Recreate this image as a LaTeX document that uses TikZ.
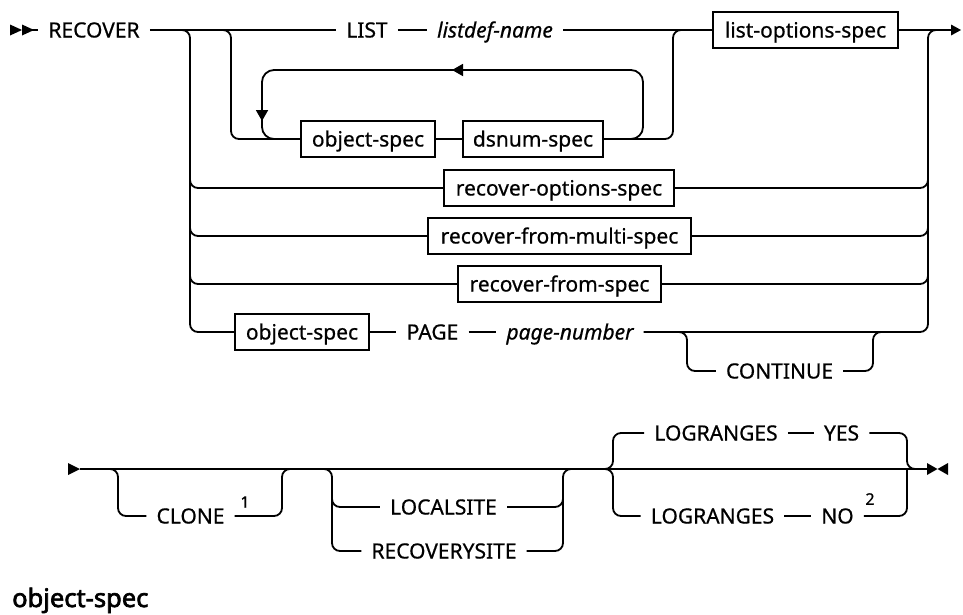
\documentclass[tikz,border=0pt]{standalone}
\usepackage{fontspec}
\setmainfont{Noto Sans}[FakeBold=0.6]
\newfontfamily\headfont{Noto Sans}[FakeBold=2.6]
\usetikzlibrary{arrows.meta}
\tikzset{
  rail/.style={line width=1.8pt},
  rc/.style={rail, rounded corners=8pt},
  rcl/.style={rail, rounded corners=12pt},
  kw/.style={font=\fontsize{21}{24}\selectfont, inner xsep=10pt, inner ysep=0pt, text height=15pt, text depth=0pt},
  var/.style={kw, font=\fontsize{21}{24}\selectfont\itshape},
  bx/.style={kw, draw, line width=1.8pt, minimum height=36pt, inner xsep=8pt},
  supnum/.style={font=\fontsize{16}{18}\selectfont, inner sep=0pt},
  head/.style={font=\headfont\fontsize{25.5}{28}\selectfont, inner sep=0pt, anchor=base west},
  tip/.style={fill=black, draw=none},
  arr/.style={rail, -{Triangle[length=11pt,width=12pt]}}
}
\begin{document}
\begin{tikzpicture}[x=1pt,y=-1pt]
\useasboundingbox (0,0) rectangle (963,614);
% ---------- row 1 ----------
\node[kw] (recover) at (94,30) {RECOVER};
\node[kw] (list) at (367,30) {LIST};
\node[var] (listdef) at (495,30) {listdef-name};
\node[bx, minimum width=185pt] (lopt) at (805.5,30) {list-options-spec};
\node[bx, minimum width=134pt] (obj1) at (368,139) {object-spec};
\node[bx, minimum width=140pt] (dsnum) at (533,139) {dsnum-spec};
\node[bx, minimum width=230pt] (recopt) at (559,188) {recover-options-spec};
\node[bx, minimum width=263pt] (recmulti) at (559.5,236) {recover-from-multi-spec};
\node[bx, minimum width=203pt] (recfrom) at (559.5,284) {recover-from-spec};
\node[bx, minimum width=134pt] (obj2) at (302,332) {object-spec};
\node[kw] (page) at (432.5,332) {PAGE};
\node[var] (pagenum) at (570,332) {page-number};
\node[kw] (cont) at (779.5,371) {CONTINUE};
\coordinate (e1) at (961,30);
% start marker
\fill[tip] (10,24.5) -- (10,35.5) -- (22,30) -- cycle;
\fill[tip] (22,24.5) -- (22,35.5) -- (34,30) -- cycle;
\draw[rail] (22,30) -- (recover.west);
\draw[rail] (recover.east) -- (list.west);
\draw[rail] (list.east) -- (listdef.west);
\draw[rail] (listdef.east) -- (lopt.west);
\draw[rail] (lopt.east) -- (952,30);
\fill[tip] (951,24.5) -- (951,35.5) -- (e1) -- cycle;
% outer branches
\draw[rc] (170,30) -| (190,332) -- (obj2.west);
\draw[rc] (190,170) |- (recopt.west);
\draw[rc] (190,218) |- (recmulti.west);
\draw[rc] (190,266) |- (recfrom.west);
\draw[rail] (obj2.east) -- (page.west);
\draw[rail] (page.east) -- (pagenum.west);
\draw[rc] (pagenum.east) -| (928,30) -- (945,30);
\draw[rc] (recopt.east) -| (928,170);
\draw[rc] (recmulti.east) -| (928,218);
\draw[rc] (recfrom.east) -| (928,266);
% continue
\draw[rc] (670,332) -| (687,371) -- (cont.west);
\draw[rc] (cont.east) -| (873,332) -- (890,332);
% inner list branch
\draw[rc] (210,30) -| (231,139) -- (obj1.west);
\draw[rail] (obj1.east) -- (dsnum.west);
\draw[rc] (dsnum.east) -| (673,30) -- (690,30);
% repeat loop
\coordinate (lt) at (452,70);
\draw[rcl] (dsnum.east) -| (643,70) -- (lt);
\draw[arr] (480,70) -- (lt);
\draw[rcl] (lt) -| (262,139) -- (290,139);
\coordinate (ld) at (262,121);
\draw[arr] (262,95) -- (ld);
% ---------- row 2 ----------
\node[kw] (clone) at (190.5,516) {CLONE};
\node[supnum] (one) at (245,502) {1};
\node[kw] (local) at (443.5,507) {LOCALSITE};
\node[kw] (rsite) at (444,551) {RECOVERYSITE};
\node[kw] (lr1) at (716,433) {LOGRANGES};
\node[kw] (yes) at (841.5,433) {YES};
\node[kw] (lr2) at (712.5,516) {LOGRANGES};
\node[kw] (no) at (837.5,516) {NO};
\node[supnum] (two) at (870,499) {2};
\coordinate (s2) at (80,469);
\fill[tip] (68,463) -- (68,475) -- (s2) -- cycle;
\draw[rail] (s2) -- (927,469);
% clone
\draw[rc] (100,469) -| (118,516) -- (clone.west);
\draw[rc] (clone.east) -| (282,469) -- (300,469);
% site
\draw[rc] (315,469) -| (332,551) -- (rsite.west);
\draw[rc] (332,490) |- (local.west);
\draw[rc] (rsite.east) -| (563,469) -- (580,469);
\draw[rc] (local.east) -| (563,490);
% logranges
\draw[rc] (595,469) -| (613,433) -- (lr1.west);
\draw[rc] (595,469) -| (613,516) -- (lr2.west);
\draw[rail] (lr1.east) -- (yes.west);
\draw[rail] (lr2.east) -- (no.west);
\draw[rc] (yes.east) -| (907,469) -- (920,469);
\draw[rc] (no.east) -| (907,469);
% end marker
\fill[tip] (927,463) -- (927,475) -- (937.5,469) -- cycle;
\fill[tip] (948,463) -- (948,475) -- (937.5,469) -- cycle;
% heading
\node[head] (heading) at (12,607) {object-spec};
\end{tikzpicture}
\end{document}
